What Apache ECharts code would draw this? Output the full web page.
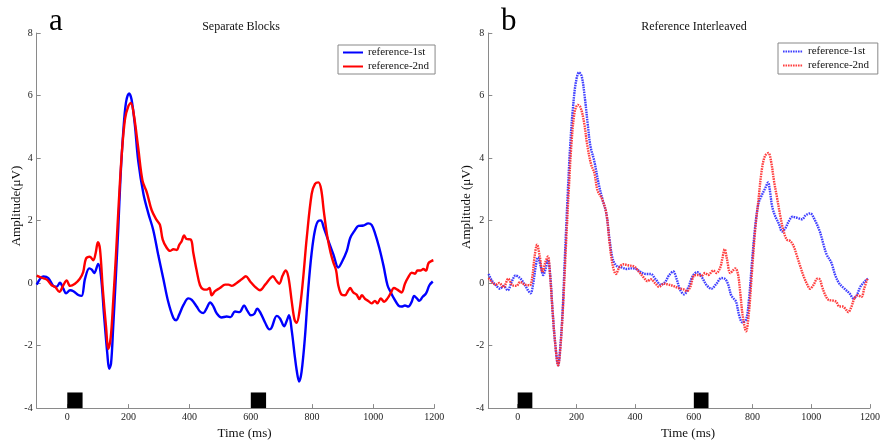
<!DOCTYPE html>
<html><head><meta charset="utf-8">
<script src="https://cdn.jsdelivr.net/npm/echarts@6/dist/echarts.min.js"></script>
<style>html,body{margin:0;padding:0;background:#fff}#c{width:883px;height:445px}</style>
</head><body><div id="c"></div>
<script>
// Panel a: Separate Blocks  [time ms, amplitude µV]
const sepFirst = [[-100,-0.05],[-78,0.21],[-62,0.16],[-46,-0.09],[-35,-0.12],[-24,0.01],[-13,-0.18],[-4,-0.33],[9,-0.23],[20,-0.26],[36,-0.38],[47,-0.41],[58,0.14],[72,0.47],[80,0.43],[88,0.32],[101,0.61],[110,0.24],[120,-1.01],[131,-2.27],[137,-2.74],[143,-2.58],[150,-1.43],[159,0.24],[167,1.81],[174,3.38],[183,4.84],[192,5.78],[202,6.07],[210,5.88],[221,5.05],[232,3.9],[249,2.85],[265,2.23],[281,1.7],[298,0.87],[314,0.14],[330,-0.6],[347,-1.12],[356,-1.19],[366,-1.01],[380,-0.7],[396,-0.49],[407,-0.54],[423,-0.75],[434,-0.91],[445,-0.96],[456,-0.8],[467,-0.62],[478,-0.75],[488,-0.96],[505,-1.1],[521,-1.07],[534,-1.09],[548,-0.91],[563,-0.93],[578,-0.72],[589,-0.89],[600,-1.03],[611,-0.99],[621,-0.82],[632,-0.96],[647,-1.27],[661,-1.48],[668,-1.43],[685,-1.05],[696,-1.14],[709,-1.38],[717,-1.22],[725,-1.03],[734,-1.53],[743,-2.27],[750,-2.79],[758,-3.15],[766,-2.84],[777,-1.74],[788,-0.18],[799,0.97],[810,1.7],[821,1.99],[829,2.0],[839,1.76],[854,1.34],[870,0.92],[886,0.5],[897,0.66],[914,1.03],[925,1.44],[941,1.7],[952,1.83],[968,1.84],[984,1.91],[995,1.86],[1006,1.6],[1020,1.13],[1034,0.55],[1047,-0.07],[1057,-0.28],[1068,-0.49],[1083,-0.72],[1093,-0.75],[1104,-0.72],[1115,-0.75],[1126,-0.6],[1134,-0.41],[1143,-0.49],[1151,-0.57],[1162,-0.44],[1173,-0.33],[1184,-0.07],[1195,0.05]];
const sepSecond = [[-100,0.24],[-84,0.17],[-67,0.11],[-51,-0.07],[-40,-0.12],[-26,-0.28],[-13,-0.07],[-2,0.08],[9,-0.09],[25,-0.02],[41,0.14],[52,0.35],[61,0.78],[74,0.84],[85,0.73],[93,0.97],[100,1.31],[107,1.08],[116,-0.18],[127,-1.43],[134,-2.11],[142,-1.74],[150,-0.6],[159,0.87],[167,2.33],[178,4.11],[189,5.26],[200,5.67],[208,5.76],[218,5.36],[232,4.32],[246,3.27],[260,2.9],[276,2.33],[292,2.02],[303,1.86],[312,1.39],[325,1.13],[336,1.03],[347,1.08],[358,1.06],[366,1.22],[374,1.34],[382,1.52],[390,1.41],[404,1.39],[412,0.97],[423,0.4],[434,-0.07],[445,-0.2],[456,-0.21],[465,-0.16],[472,-0.39],[483,-0.26],[499,-0.16],[516,-0.05],[527,-0.05],[538,-0.09],[554,0.0],[570,0.12],[584,0.22],[598,0.05],[614,-0.12],[630,-0.23],[647,-0.05],[661,0.12],[672,0.22],[683,0.08],[693,-0.02],[704,0.24],[714,0.4],[723,0.19],[734,-0.6],[743,-1.17],[750,-1.27],[759,-0.91],[770,0.03],[783,1.45],[799,2.85],[810,3.17],[821,3.22],[830,3.0],[839,2.28],[850,1.5],[861,0.97],[870,0.66],[879,0.4],[886,-0.07],[897,-0.37],[908,-0.39],[919,-0.23],[925,-0.16],[935,-0.3],[946,-0.37],[955,-0.51],[963,-0.39],[974,-0.51],[984,-0.57],[995,-0.65],[1006,-0.57],[1014,-0.65],[1025,-0.49],[1036,-0.6],[1047,-0.49],[1057,-0.33],[1068,-0.16],[1079,-0.21],[1093,-0.3],[1104,-0.02],[1115,0.19],[1126,0.33],[1137,0.3],[1145,0.4],[1156,0.4],[1164,0.45],[1173,0.4],[1181,0.64],[1192,0.71],[1197,0.73]];
// Panel b: Reference Interleaved
const intFirst = [[-99,0.29],[-88,0.08],[-74,-0.07],[-60,-0.18],[-48,-0.09],[-34,-0.23],[-20,0.05],[-7,0.24],[8,0.16],[22,-0.02],[35,-0.23],[44,-0.33],[52,-0.07],[61,0.5],[69,0.82],[78,0.55],[87,0.26],[95,0.45],[103,0.74],[111,0.24],[119,-0.91],[127,-1.85],[138,-2.63],[145,-2.06],[153,-0.91],[161,0.87],[170,2.75],[179,4.42],[188,5.57],[198,6.41],[209,6.74],[218,6.62],[228,5.99],[239,5.05],[248,4.37],[261,3.9],[276,3.17],[290,2.64],[302,2.23],[313,1.39],[324,0.76],[337,0.55],[354,0.5],[371,0.45],[386,0.47],[403,0.45],[420,0.35],[437,0.29],[453,0.29],[470,0.12],[487,-0.05],[502,0.03],[515,0.24],[530,0.37],[541,0.14],[554,-0.23],[567,-0.36],[582,-0.12],[597,0.24],[612,0.35],[627,0.19],[644,-0.07],[660,-0.18],[677,-0.02],[694,0.16],[705,0.14],[716,-0.02],[727,-0.39],[735,-0.49],[744,-0.6],[755,-1.06],[766,-1.26],[778,-1.17],[787,-0.6],[798,0.66],[809,1.81],[820,2.54],[831,2.8],[842,3.01],[853,3.22],[859,2.96],[867,2.44],[878,2.12],[889,1.91],[901,1.65],[912,1.76],[923,1.97],[936,2.12],[951,2.09],[968,2.04],[981,2.17],[996,2.23],[1012,2.02],[1029,1.65],[1040,1.29],[1052,0.92],[1068,0.66],[1082,0.24],[1096,-0.02],[1113,-0.18],[1130,-0.33],[1144,-0.49],[1155,-0.39],[1167,-0.12],[1180,0.03],[1193,0.14]];
const intSecond = [[-99,0.16],[-85,0.01],[-74,-0.05],[-63,0.0],[-48,-0.13],[-32,0.14],[-18,-0.07],[-4,-0.09],[8,0.03],[24,-0.05],[41,-0.07],[49,0.14],[58,0.87],[66,1.23],[75,0.87],[85,0.35],[94,0.66],[103,0.85],[110,0.29],[119,-0.91],[127,-1.85],[138,-2.63],[147,-1.9],[156,-0.49],[165,1.29],[174,2.96],[183,4.42],[194,5.47],[205,5.7],[214,5.62],[226,5.15],[237,4.42],[250,3.8],[261,3.53],[272,2.96],[287,2.7],[302,2.23],[313,1.29],[324,0.55],[335,0.29],[346,0.5],[360,0.6],[376,0.57],[398,0.52],[414,0.35],[431,0.16],[442,0.06],[453,0.12],[470,-0.02],[481,-0.12],[498,-0.02],[515,-0.05],[532,-0.1],[548,-0.16],[565,-0.2],[576,-0.26],[588,-0.12],[601,0.24],[616,0.26],[627,0.24],[638,0.32],[649,0.26],[666,0.4],[677,0.32],[690,0.5],[697,0.78],[705,1.08],[713,0.76],[724,0.32],[733,0.4],[741,0.47],[750,0.3],[758,-0.3],[766,-1.01],[778,-1.54],[787,-1.01],[798,0.35],[809,1.71],[820,2.65],[831,3.59],[842,4.06],[854,4.16],[863,3.9],[873,3.27],[884,2.7],[895,2.12],[906,1.65],[917,1.39],[929,1.34],[940,1.18],[951,0.87],[962,0.55],[973,0.24],[985,-0.02],[996,-0.18],[1007,-0.07],[1021,0.14],[1029,0.12],[1037,-0.12],[1048,-0.39],[1059,-0.54],[1074,-0.56],[1085,-0.6],[1096,-0.75],[1107,-0.75],[1119,-0.86],[1126,-0.93],[1135,-0.8],[1147,-0.49],[1158,-0.39],[1171,-0.44],[1180,-0.18],[1191,0.14]];
// Stimulus markers [start ms, end ms, bottom µV, top µV]
const stimuli = [[0,50,-4,-3.5],[600,650,-4,-3.5]];
const xTicks = [0,200,400,600,800,1000,1200];
const namesA = ['reference-1st','reference-2nd'];
const namesB = ['reference-1st ','reference-2nd '];

const FONT = 'Liberation Serif';
const chart = echarts.init(document.getElementById('c'), null, {renderer:'canvas'});

function xAx(i){
  return {gridIndex:i, type:'value', min:-100, max:1200,
    axisLine:{onZero:false, lineStyle:{color:'#8a8a8a', width:1}},
    axisTick:{inside:true, length:4, customValues:xTicks, lineStyle:{color:'#8a8a8a'}},
    axisLabel:{customValues:xTicks, formatter:function(v){return String(v);}, fontFamily:FONT, fontSize:10, color:'#222', margin:4},
    splitLine:{show:false},
    name:'Time (ms)', nameLocation:'middle', nameGap:17,
    nameTextStyle:{fontFamily:FONT, fontSize:13, color:'#111', padding:[0,0,0,18]}};
}
function yAx(i){
  return {gridIndex:i, type:'value', min:-4, max:8, interval:2,
    axisLine:{show:true, onZero:false, lineStyle:{color:'#8a8a8a', width:1}},
    axisTick:{show:true, inside:true, length:4, lineStyle:{color:'#8a8a8a'}},
    axisLabel:{fontFamily:FONT, fontSize:10, color:'#222', margin:4},
    splitLine:{show:false}};
}
function line(name, data, color, i, dotted){
  return {name:name, type:'line', xAxisIndex:i, yAxisIndex:i, data:data, symbol:'none', showSymbol:false,
    smooth:0.35, z:3,
    lineStyle: dotted ? {color:color, width:2.4, type:[1.6,0.9], opacity:0.9} : {color:color, width:2.4},
    itemStyle:{color:color}};
}
function stim(i){
  return {type:'custom', xAxisIndex:i, yAxisIndex:i, data:stimuli, z:4,
    encode:{x:[0,1], y:[2,3]},
    renderItem:function(params, api){
      const p1 = api.coord([api.value(0), api.value(3)]);
      const p2 = api.coord([api.value(1), api.value(2)]);
      return {type:'rect', shape:{x:p1[0], y:p1[1], width:p2[0]-p1[0], height:p2[1]-p1[1]},
        style:{fill:'#000'}};
    }};
}
const legendText = {fontFamily:FONT, fontSize:11, color:'#111'};
const option = {
  animation:false,
  backgroundColor:'#fff',
  grid:[{left:36.7, right:448.7, top:33, bottom:30.5, containLabel:false},
        {left:488.3, right:7, top:33, bottom:30.5, containLabel:false}],
  xAxis:[xAx(0), xAx(1)],
  yAxis:[yAx(0), yAx(1)],
  title:[
    {text:'Separate Blocks', left:236, top:16, textAlign:'center', textStyle:{fontFamily:FONT, fontSize:12, fontWeight:'normal', color:'#111'}},
    {text:'Reference Interleaved', left:689, top:16, textAlign:'center', textStyle:{fontFamily:FONT, fontSize:12, fontWeight:'normal', color:'#111'}}
  ],
  legend:[
    {left:338, top:45, orient:'vertical', itemWidth:20, itemHeight:10, itemGap:3, padding:[2,6,2,4],
      borderColor:'#888', borderWidth:1, backgroundColor:'#fff', textStyle:legendText,
      itemStyle:{opacity:0, borderWidth:0}, data:namesA},
    {left:778, top:43, orient:'vertical', itemWidth:20, itemHeight:10, itemGap:3, padding:[3,6,3,4],
      borderColor:'#888', borderWidth:1, backgroundColor:'#fff', textStyle:legendText,
      itemStyle:{opacity:0, borderWidth:0}, data:namesB}
  ],
  graphic:[
    {type:'text', left:49, top:6, style:{text:'a', fontFamily:FONT, fontSize:31, fill:'#000'}},
    {type:'text', left:501, top:6, style:{text:'b', fontFamily:FONT, fontSize:31, fill:'#000'}},
    {type:'text', x:17, y:206, rotation:Math.PI/2, style:{text:'Amplitude(\u03bcV)', fontFamily:FONT, fontSize:13, fill:'#111', align:'center', verticalAlign:'middle'}},
    {type:'text', x:467, y:207, rotation:Math.PI/2, style:{text:'Amplitude (\u03bcV)', fontFamily:FONT, fontSize:13, fill:'#111', align:'center', verticalAlign:'middle'}}
  ],
  series:[
    line(namesA[0], sepFirst, '#0000ff', 0, false),
    line(namesA[1], sepSecond, '#ff0000', 0, false),
    line(namesB[0], intFirst, '#2a2aff', 1, true),
    line(namesB[1], intSecond, '#ff2a2a', 1, true),
    stim(0), stim(1)
  ]
};
chart.setOption(option);
</script></body></html>
